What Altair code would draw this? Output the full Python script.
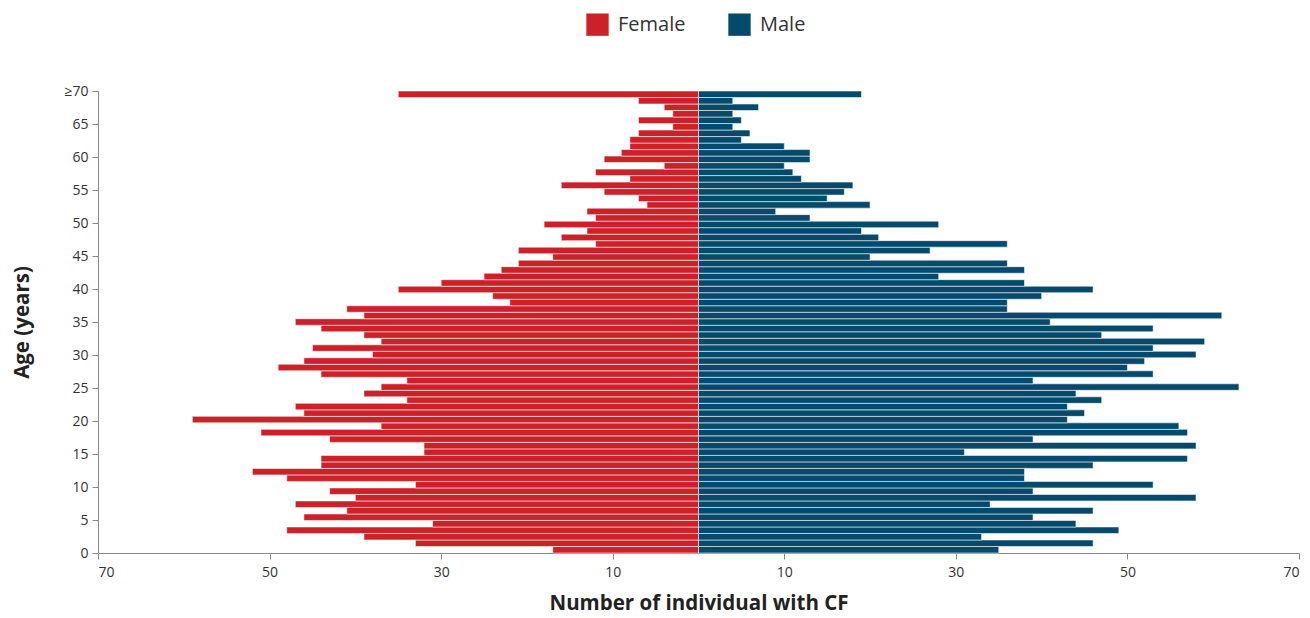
import altair as alt
import pandas as pd

ages = list(range(0, 71))
female = [17, 33, 39, 48, 31, 46, 41, 47, 40, 43,
          33, 48, 52, 44, 44, 32, 32, 43, 51, 37,
          59, 46, 47, 34, 39, 37, 34, 44, 49, 46,
          38, 45, 37, 39, 44, 47, 39, 41, 22, 24,
          35, 30, 25, 23, 21, 17, 21, 12, 16, 13,
          18, 12, 13, 6, 7, 11, 16, 8, 12, 4,
          11, 9, 8, 8, 7, 3, 7, 3, 4, 7,
          35]
male = [35, 46, 33, 49, 44, 39, 46, 34, 58, 39,
        53, 38, 38, 46, 57, 31, 58, 39, 57, 56,
        43, 45, 43, 47, 44, 63, 39, 53, 50, 52,
        58, 53, 59, 47, 53, 41, 61, 36, 36, 40,
        46, 38, 28, 38, 36, 20, 27, 36, 21, 19,
        28, 13, 9, 20, 15, 17, 18, 12, 11, 10,
        13, 13, 10, 5, 6, 4, 5, 4, 7, 4,
        19]
groups = ["Female", "Male"]
colors = ["#CD2129", "#044A6C"]
x_ticks = [-70, -50, -30, -10, 10, 30, 50, 70]
y_ticks = list(range(0, 71, 5))

df = pd.DataFrame({"age": ages, "Female": female, "Male": male})

FONT = "Open Sans"
n_bands = len(ages)

chart = (
    alt.Chart(df)
    .transform_fold(groups, as_=["sex", "n"])
    .transform_calculate(
        signed="datum.sex === 'Female' ? -datum.n : datum.n",
        y0=f"datum.age * 70 / {n_bands}",
        y1=f"(datum.age + 1) * 70 / {n_bands}",
    )
    .mark_rect(stroke="white", strokeWidth=1, strokeOpacity=0.55)
    .encode(
        x=alt.X(
            "signed:Q",
            scale=alt.Scale(domain=[-70, 70], nice=False, zero=False),
            axis=alt.Axis(
                values=x_ticks,
                labelExpr="abs(datum.value)",
                title="Number of individual with CF",
                grid=False,
                tickSize=6,
                labelPadding=6,
                titlePadding=14,
            ),
        ),
        x2=alt.datum(0),
        y=alt.Y(
            "y0:Q",
            scale=alt.Scale(domain=[0, 70], nice=False, zero=False),
            axis=alt.Axis(
                values=y_ticks,
                labelExpr="datum.value == 70 ? '≥70' : datum.label",
                title="Age (years)",
                grid=False,
                tickSize=6,
                labelPadding=4,
                titlePadding=31,
            ),
        ),
        y2="y1:Q",
        color=alt.Color(
            "sex:N",
            scale=alt.Scale(domain=groups, range=colors),
            legend=alt.Legend(
                title=None,
                orient="none",
                legendX=488,
                legendY=-78,
                direction="horizontal",
                symbolType="square",
                symbolSize=500,
                symbolStrokeWidth=0,
                symbolOpacity=1,
                labelFont=FONT,
                labelFontSize=20,
                labelColor="#333333",
                labelOffset=9,
                columnPadding=42,
            ),
        ),
    )
    .properties(
        width=1201,
        height=462,
        autosize=alt.AutoSizeParams(type="none"),
        padding={"left": 90, "top": 83, "right": 3, "bottom": 66},
    )
    .configure_view(stroke=None)
    .configure_axis(
        labelFont=FONT,
        labelFontSize=14,
        labelColor="#333333",
        titleFont=FONT,
        titleFontSize=20.5,
        titleFontWeight="bold",
        titleColor="#222222",
        domainColor="#888888",
        tickColor="#888888",
    )
)

chart.save("out.html", embed_options={"renderer": "svg", "actions": False})
